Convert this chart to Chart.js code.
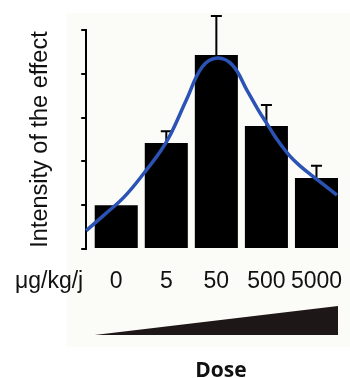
<!DOCTYPE html>
<html lang="en">
<head>
    <meta charset="UTF-8">
    <title>Dose response</title>
    <script src="https://cdn.jsdelivr.net/npm/chart.js"></script>
    <style>
        body {
            margin: 0;
            background-color: white;
        }
        .wrap {
            width: 350px;
            height: 378px;
            position: relative;
        }
    </style>
</head>
<body>
    <div class="wrap">
        <canvas id="chart"></canvas>
    </div>

    <script>
        // dose groups and measured effect (bars), upper error
        const doseLabels = ['0', '5', '50', '500', '5000'];
        const effectValues = [1.0, 2.42, 4.43, 2.81, 1.62];
        const errorValues = [0, 0.27, 0.89, 0.48, 0.28];
        const yTicks = [0, 1, 2, 3, 4, 5];

        // fitted curve (x in dose-group units)
        const curveX = [-0.6, -0.24, 0.16, 0.56, 0.90, 1.10, 1.40, 1.72, 2.02, 2.32, 2.61, 2.85, 3.0, 3.2, 3.47, 3.7, 3.93, 4.41];
        const curveY = [0.42, 0.78, 1.19, 1.74, 2.26, 2.65, 3.40, 4.16, 4.36, 4.20, 3.63, 3.15, 2.88, 2.52, 2.12, 1.87, 1.66, 1.23];

        const unitLabel = 'μg/kg/j';
        const axisTitle = 'Intensity of the effect';
        const doseTitle = 'Dose';

        Chart.defaults.font.family = '"Liberation Sans", Arial, sans-serif';
        Chart.defaults.color = '#111';

        const decorations = {
            id: 'decorations',
            beforeDraw(chart) {
                const c = chart.ctx;
                c.save();
                c.fillStyle = '#fbfbf7';
                c.fillRect(67, 13, 283, 334);
                c.restore();
            },
            afterDatasetDraw(chart, args) {
                if (args.index !== 0) return;
                const c = chart.ctx;
                const y = chart.scales.y;
                const meta = chart.getDatasetMeta(0);
                c.save();
                c.strokeStyle = '#000';
                c.lineWidth = 2;
                meta.data.forEach((bar, i) => {
                    if (!errorValues[i]) return;
                    const top = y.getPixelForValue(effectValues[i] + errorValues[i]);
                    c.beginPath();
                    c.moveTo(bar.x, bar.y);
                    c.lineTo(bar.x, top);
                    c.moveTo(bar.x - 5.5, top);
                    c.lineTo(bar.x + 5.5, top);
                    c.stroke();
                });
                c.restore();
            },
            afterDraw(chart) {
                const c = chart.ctx;
                const meta = chart.getDatasetMeta(0);
                const first = meta.data[0];
                const last = meta.data[meta.data.length - 1];
                const left = first.x - first.width / 2;
                const right = last.x + last.width / 2;
                c.save();
                // dose wedge
                c.fillStyle = '#1e1717';
                c.beginPath();
                c.moveTo(left, 335);
                c.lineTo(right, 306);
                c.lineTo(right, 335);
                c.closePath();
                c.fill();
                // unit label
                c.fillStyle = '#111';
                c.font = '23px "Liberation Sans", Arial, sans-serif';
                c.textAlign = 'left';
                c.textBaseline = 'middle';
                c.fillText(unitLabel, 15, 282);
                // dose title
                c.font = 'bold 21px "Open Sans", sans-serif';
                c.textAlign = 'center';
                c.textBaseline = 'alphabetic';
                c.fillText(doseTitle, 221, 377);
                c.restore();
            }
        };

        const ctx = document.getElementById('chart').getContext('2d');

        new Chart(ctx, {
            type: 'bar',
            data: {
                datasets: [
                    {
                        type: 'bar',
                        data: effectValues.map((v, i) => ({ x: i, y: v })),
                        backgroundColor: '#000',
                        categoryPercentage: 1,
                        barPercentage: 0.86,
                        order: 2
                    },
                    {
                        type: 'line',
                        data: curveX.map((x, i) => ({ x: x, y: curveY[i] })),
                        borderColor: '#2b53b5',
                        borderWidth: 3.5,
                        pointRadius: 0,
                        tension: 0.4,
                        fill: false,
                        clip: false,
                        order: 1
                    }
                ]
            },
            options: {
                responsive: true,
                maintainAspectRatio: false,
                animation: false,
                layout: {
                    padding: { left: 26, right: 8.5, top: 30, bottom: 82 }
                },
                plugins: {
                    legend: { display: false },
                    tooltip: { enabled: false }
                },
                scales: {
                    x: {
                        type: 'linear',
                        min: -0.6,
                        max: 4.5,
                        offset: false,
                        afterBuildTicks: (scale) => {
                            scale.ticks = doseLabels.map((_, i) => ({ value: i }));
                        },
                        afterFit: (scale) => {
                            scale.height = 47;
                            scale.paddingLeft = 0;
                            scale.paddingRight = 0;
                        },
                        ticks: {
                            callback: (v) => doseLabels[v],
                            autoSkip: false,
                            maxRotation: 0,
                            padding: 19,
                            font: { size: 23 },
                            color: '#111'
                        },
                        grid: { display: false, drawTicks: false, offset: false },
                        border: { display: false }
                    },
                    y: {
                        min: 0,
                        max: 5,
                        afterBuildTicks: (scale) => {
                            scale.ticks = yTicks.map((v) => ({ value: v }));
                        },
                        ticks: { display: false },
                        grid: {
                            drawOnChartArea: false,
                            drawTicks: true,
                            tickLength: 5,
                            color: '#000',
                            lineWidth: 2
                        },
                        border: { display: true, color: '#000', width: 2 },
                        title: {
                            display: true,
                            text: axisTitle,
                            font: { size: 23.5 },
                            color: '#111',
                            padding: { top: 0, bottom: 27 }
                        }
                    }
                }
            },
            plugins: [decorations]
        });
    </script>
</body>
</html>
